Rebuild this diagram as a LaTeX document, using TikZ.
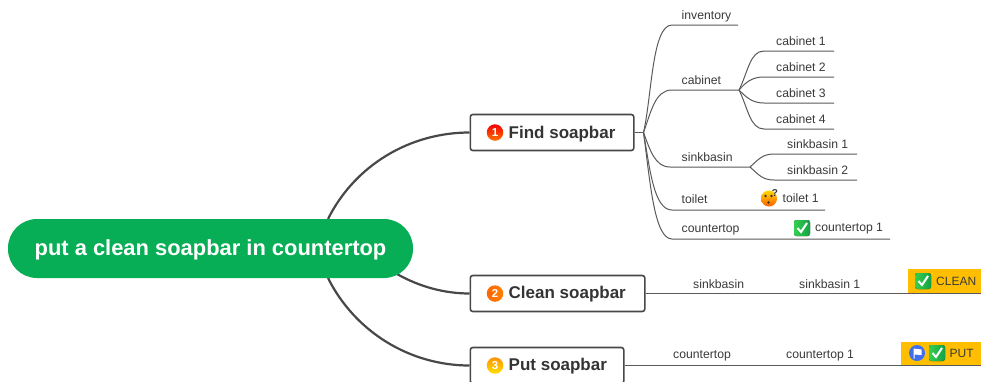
\documentclass[tikz,border=0pt]{standalone}
\usepackage{fontspec}
\setmainfont{Liberation Sans}
\usetikzlibrary{calc}
\definecolor{ink}{HTML}{3A3A3A}
\definecolor{thickl}{HTML}{484848}
\definecolor{thinl}{HTML}{5A5A5A}
\definecolor{rootg}{HTML}{07AE55}
\definecolor{tagy}{HTML}{FFBF00}
\definecolor{chkl}{HTML}{35D04F}
\definecolor{chkd}{HTML}{14A046}
\definecolor{flagb}{HTML}{3F6FEF}
\tikzset{
  x=1pt,y=-1pt,
  rootbox/.style={fill=rootg,draw=none,rounded corners=29pt,minimum width=405pt,minimum height=59pt,inner sep=0pt},
  roottext/.style={inner sep=0pt,text=white,font=\fontsize{21.9}{24}\selectfont\bfseries},
  topic/.style={draw=thickl,line width=1.6pt,rounded corners=2.5pt,fill=white,minimum height=36pt,inner sep=0pt,anchor=west},
  topictext/.style={anchor=west,inner sep=0pt,text=ink!90!black,font=\fontsize{17}{20}\selectfont\bfseries},
  leaf/.style={anchor=west,inner sep=0pt,text=ink,font=\fontsize{12.2}{14}\selectfont},
  tagtext/.style={anchor=west,inner sep=0pt,text=ink,font=\fontsize{12}{14}\selectfont},
  big/.style={line width=2.2pt,draw=thickl},
  small/.style={line width=1pt,draw=thinl},
  badge/.style={circle,minimum size=16.5pt,inner sep=0pt,text=white,font=\fontsize{11.5}{10}\selectfont\bfseries},
  tagbox/.style={fill=tagy,draw=none,inner sep=0pt,anchor=south east},
}
\newcommand{\checkicon}[2]{%
  \fill[rounded corners=2.5pt,left color=chkl,right color=chkd] ($(#1,#2)+(-8,-8)$) rectangle ($(#1,#2)+(8,8)$);
  \draw[white,line width=2pt] ($(#1,#2)+(-4.5,0)$) -- ($(#1,#2)+(-1,4)$) -- ($(#1,#2)+(5,-5)$);
}
\begin{document}
\begin{tikzpicture}
\useasboundingbox (0,0) rectangle (981,381);
\fill[white] (0,0) rectangle (981,381);

% main branches
\coordinate (rA) at (328,219);
\coordinate (rB) at (397,274);
\coordinate (rC) at (328,278);
\node[topic,minimum width=163.5pt] (find) at (469.5,132.5) {};
\node[topic,minimum width=174.5pt] (clean) at (469.5,293.5) {};
\node[topic,minimum width=153.5pt] (put) at (469.5,365.5) {};
\draw[big] (rA) .. controls (355,165) and (410,132.5) .. (find.west);
\draw[big] (rB) .. controls (420,287) and (445,293.5) .. (clean.west);
\draw[big] (rC) .. controls (355,332) and (410,365.5) .. (put.west);
\node[rootbox] (root) at (210.5,248.5) {};
\node[roottext] (rootlabel) at (210.5,250) {put a clean soapbar in countertop};

% topic labels
\node[badge,top color=red!95!black,bottom color=orange!90!red] (b1) at (495,132.5) {1};
\node[topictext] (t1) at (508.5,134) {Find soapbar};
\node[badge,left color=orange!80!red,right color=orange] (b2) at (495,293.5) {2};
\node[topictext] (t2) at (508.5,294.5) {Clean soapbar};
\node[badge,top color=orange!85!yellow,bottom color=yellow!75!orange] (b3) at (495,365.5) {3};
\node[topictext] (t3) at (508.5,366.5) {Put soapbar};

% Find branch
\coordinate (hub) at (643.5,132.5);
\coordinate (invA) at (672,25);   \coordinate (invB) at (738,25);
\coordinate (cabA) at (672,90);   \coordinate (cabB) at (739,90);
\coordinate (c1A) at (764,51);    \coordinate (c1B) at (834,51);
\coordinate (c2A) at (764,77);    \coordinate (c2B) at (834,77);
\coordinate (c3A) at (764,103);   \coordinate (c3B) at (834,103);
\coordinate (c4A) at (764,129);   \coordinate (c4B) at (834,129);
\coordinate (sinA) at (670,167);  \coordinate (sinB) at (750,167);
\coordinate (s1A) at (774,154);   \coordinate (s1B) at (857,154);
\coordinate (s2A) at (774,180);   \coordinate (s2B) at (857,180);
\coordinate (toiA) at (672,210);  \coordinate (toiB) at (825,210);
\coordinate (couA) at (672,239);  \coordinate (couB) at (890,239);

\draw[small] (find.east) -- (hub);
\draw[small] (hub) .. controls (652,95) and (652,25) .. (invA) -- (invB);
\draw[small] (hub) .. controls (651,112) and (655,90) .. (cabA) -- (cabB);
\draw[small] (cabB) .. controls (748,72) and (750,51) .. (c1A) -- (c1B);
\draw[small] (cabB) .. controls (746,82) and (752,77) .. (c2A) -- (c2B);
\draw[small] (cabB) .. controls (746,97) and (752,103) .. (c3A) -- (c3B);
\draw[small] (cabB) .. controls (748,108) and (750,129) .. (c4A) -- (c4B);
\draw[small] (hub) .. controls (650,150) and (655,167) .. (sinA) -- (sinB);
\draw[small] (sinB) .. controls (758,160) and (762,154) .. (s1A) -- (s1B);
\draw[small] (sinB) .. controls (758,174) and (762,180) .. (s2A) -- (s2B);
\draw[small] (hub) .. controls (650,170) and (654,210) .. (toiA) -- (toiB);
\draw[small] (hub) .. controls (650,180) and (654,239) .. (couA) -- (couB);

\node[leaf] (ninv) at (681.5,16.5) {inventory};
\node[leaf] (ncab) at (681.5,80.5) {cabinet};
\node[leaf] (nc1) at (776,41.5) {cabinet 1};
\node[leaf] (nc2) at (776,67.5) {cabinet 2};
\node[leaf] (nc3) at (776,93) {cabinet 3};
\node[leaf] (nc4) at (776,119) {cabinet 4};
\node[leaf] (nsin) at (681.5,157.5) {sinkbasin};
\node[leaf] (ns1) at (787,144.5) {sinkbasin 1};
\node[leaf] (ns2) at (787,170) {sinkbasin 2};
\node[leaf] (ntoi) at (681.5,199.5) {toilet};
\node[leaf] (nt1) at (782.5,198.5) {toilet 1};
\node[leaf] (ncou) at (681.5,229.5) {countertop};
\node[leaf] (ncu1) at (815,228.5) {countertop 1};

% thinking face emoji
\shade[top color=yellow!70!orange,bottom color=orange!75!red] (769,198.5) circle (8);
\fill[ink] (765.5,196) circle (1.4) (771.5,196) circle (1.4) (768.5,202.5) circle (1.4);
\node[inner sep=0pt,text=ink,font=\fontsize{10}{8}\selectfont\bfseries] (q1) at (775,193) {?};
\checkicon{802}{228}

% Clean branch
\coordinate (cEnd) at (981,293.5);
\draw[small] (clean.east) -- (cEnd);
\node[leaf] (nc5) at (693,284.5) {sinkbasin};
\node[leaf] (nc6) at (799,284.5) {sinkbasin 1};
\node[tagbox,minimum width=73pt,minimum height=24.5pt] (tagc) at (981,293.5) {};
\checkicon{923}{281}
\node[tagtext] (tc) at (936,281.5) {CLEAN};

% Put branch
\coordinate (pEnd) at (981,365.5);
\draw[small] (put.east) -- (pEnd);
\node[leaf] (np1) at (673,355.5) {countertop};
\node[leaf] (np2) at (786,355.5) {countertop 1};
\node[tagbox,minimum width=80pt,minimum height=23.5pt] (tagp) at (981,365.5) {};
\fill[flagb] (917,353) circle (8);
\fill[white] (913.5,348.5) -- (921.5,349.5) -- (921.5,355) -- (914.5,354.5) -- (914.5,358.5) -- (913.5,358.5) -- cycle;
\checkicon{937}{353}
\node[tagtext] (tp) at (949.5,353.5) {PUT};
\end{tikzpicture}
\end{document}
